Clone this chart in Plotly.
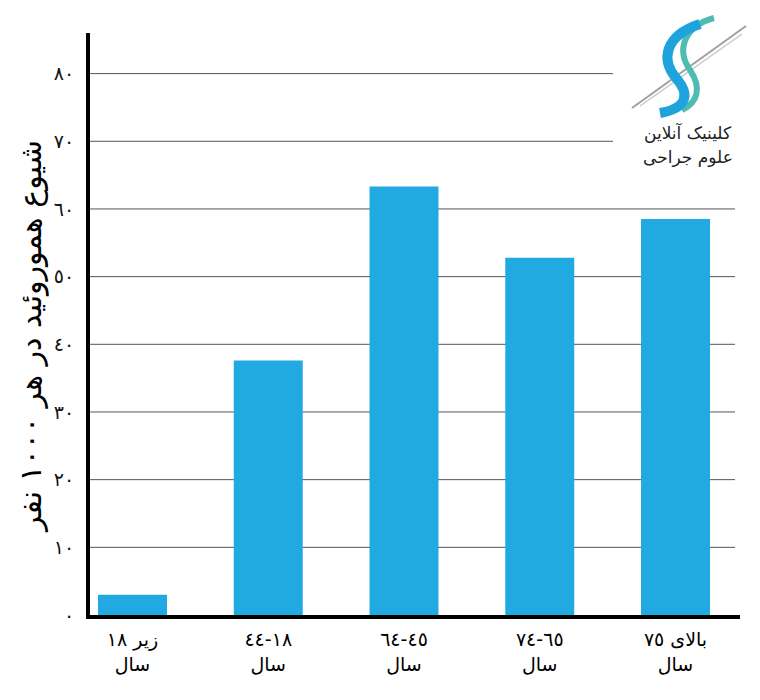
import plotly.graph_objects as go

# ---- data ----
categories = ["زیر ١٨<br>سال", "١٨-٤٤<br>سال", "٤٥-٦٤<br>سال", "٦٥-٧٤<br>سال", "بالای ٧٥<br>سال"]
values = [3.0, 37.6, 63.3, 52.8, 58.5]
y_ticks = [0, 10, 20, 30, 40, 50, 60, 70, 80]
y_tick_labels = ["٠", "١٠", "٢٠", "٣٠", "٤٠", "٥٠", "٦٠", "٧٠", "٨٠"]
y_title = "شیوع هموروئید در هر ١٠٠٠ نفر"
logo_lines = ["کلینیک آنلاین", "علوم جراحی"]

# page body has an 8px margin; design in reference pixels and shift
OFF = 8
W, H = 760 - 2 * OFF, 700 - 2 * OFF
L, R, T, B = 90 - OFF, 20 - OFF, 33 - OFF, 85 - OFF
PW, PH = W - L - R, H - T - B


def px(x):
    return (x - OFF - L) / PW


def py(y):
    return (H - B - (y - OFF)) / PH


FONT = "DejaVu Sans"
BAR = "#21a9e1"

fig = go.Figure()
fig.add_trace(go.Bar(x=categories, y=values, marker=dict(color=BAR, line=dict(width=0)),
                     width=0.508, showlegend=False, hoverinfo="skip"))

shapes = []
# gridlines (top two stop before the logo)
for v in y_ticks[1:]:
    x1 = px(613) if v >= 70 else px(735)
    shapes.append(dict(type="line", xref="paper", yref="y", x0=0, x1=x1, y0=v, y1=v,
                       line=dict(color="#555555", width=1), layer="below"))


# logo decoration
def path(points):
    s = "M {} {}".format(px(points[0][0]), py(points[0][1]))
    for i in range(1, len(points), 3):
        a, b, c = points[i], points[i + 1], points[i + 2]
        s += " C {} {}, {} {}, {} {}".format(px(a[0]), py(a[1]), px(b[0]), py(b[1]), px(c[0]), py(c[1]))
    return s


shapes.append(dict(type="line", xref="paper", yref="paper", x0=px(746), y0=py(26), x1=px(632), y1=py(108),
                   line=dict(color="#a0a0a0", width=2)))
shapes.append(dict(type="line", xref="paper", yref="paper", x0=px(742), y0=py(34), x1=px(640), y1=py(106),
                   line=dict(color="#c8c8c8", width=1.5)))
shapes.append(dict(type="path", xref="paper", yref="paper",
                   path=path([(714, 18), (684, 26), (676, 50), (690, 70), (702, 88), (698, 102), (682, 110)]),
                   line=dict(color="#4dbdb3", width=6)))
shapes.append(dict(type="path", xref="paper", yref="paper",
                   path=path([(700, 24), (664, 36), (661, 60), (676, 78), (690, 94), (688, 108), (660, 113)]),
                   line=dict(color="#1fa3dc", width=10)))

annotations = [
    dict(xref="paper", yref="paper", x=px(688), y=py(133), xanchor="center", yanchor="middle",
         text=logo_lines[0], showarrow=False, font=dict(family=FONT, size=17, color="#222222")),
    dict(xref="paper", yref="paper", x=px(688), y=py(157), xanchor="center", yanchor="middle",
         text=logo_lines[1], showarrow=False, font=dict(family=FONT, size=17, color="#222222")),
    dict(xref="paper", yref="paper", x=px(31), y=py(337), xanchor="center", yanchor="middle",
         textangle=-90, text=y_title, showarrow=False,
         font=dict(family=FONT, size=30, color="#000000")),
]

fig.update_layout(
    width=W, height=H,
    margin=dict(l=L, r=R, t=T, b=B, pad=0),
    paper_bgcolor="white", plot_bgcolor="white",
    font=dict(family=FONT, color="#111111"),
    shapes=shapes, annotations=annotations,
    xaxis=dict(range=[-0.313, 4.475], showgrid=False, zeroline=False,
               showline=True, linecolor="black", linewidth=4,
               ticks="", tickfont=dict(size=19, color="#000000", family=FONT),
               ticklabelstandoff=4, fixedrange=True),
    yaxis=dict(range=[0, 86], tickvals=y_ticks, ticktext=y_tick_labels,
               showgrid=False, zeroline=False,
               showline=True, linecolor="black", linewidth=4,
               ticks="", tickfont=dict(size=19, color="#111111", family=FONT),
               ticklabelstandoff=8, fixedrange=True),
)

fig.write_html("out.html")
